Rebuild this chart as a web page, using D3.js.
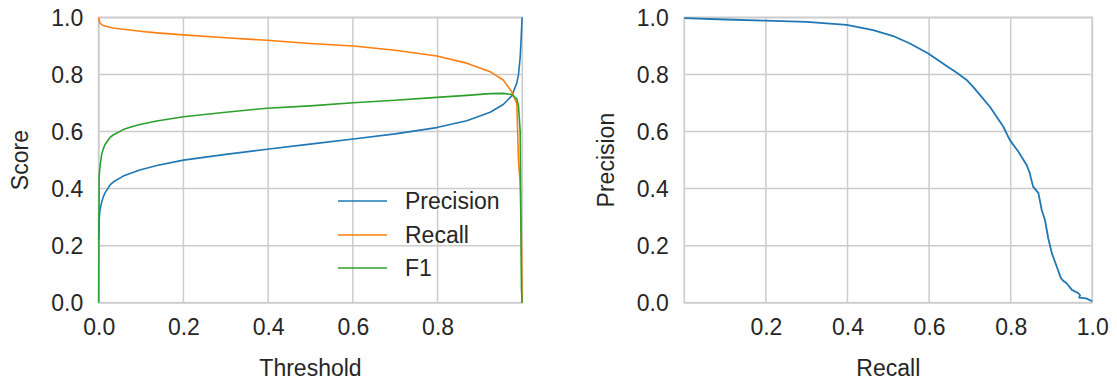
<!DOCTYPE html>
<html>
<head>
<meta charset="utf-8">
<script src="https://cdn.jsdelivr.net/npm/d3@7"></script>
<style>
  html, body { margin: 0; padding: 0; background: #ffffff; }
  svg { display: block; }
  text { font-family: "Liberation Sans", Arial, sans-serif; fill: #262626; }
</style>
</head>
<body>
<svg id="chart" width="1117" height="381"></svg>
<script>
// Threshold sweep: precision, recall and F1 at each decision threshold
const thresholds = [0, 0.001, 0.003, 0.007, 0.011, 0.015, 0.027, 0.034, 0.058, 0.074,
  0.097, 0.137, 0.2, 0.3, 0.397, 0.499, 0.601, 0.7, 0.798, 0.869,
  0.924, 0.955, 0.975, 0.987, 0.991, 0.995, 0.998, 0.9995];
const precisionByThreshold = [0.22, 0.29, 0.325, 0.352, 0.372, 0.385, 0.413, 0.423, 0.444, 0.453,
  0.465, 0.481, 0.5, 0.52, 0.538, 0.556, 0.574, 0.592, 0.614, 0.638,
  0.668, 0.695, 0.725, 0.77, 0.8, 0.86, 0.95, 1.0];
const recallByThreshold = [1.0, 0.99, 0.98, 0.975, 0.972, 0.97, 0.966, 0.963, 0.959, 0.956,
  0.952, 0.946, 0.939, 0.929, 0.92, 0.909, 0.9, 0.885, 0.865, 0.84,
  0.81, 0.781, 0.74, 0.699, 0.5, 0.42, 0.2, 0.0];
const f1ByThreshold = [0.0, 0.44, 0.477, 0.52, 0.54, 0.555, 0.58, 0.588, 0.607, 0.615,
  0.625, 0.637, 0.652, 0.668, 0.682, 0.69, 0.701, 0.71, 0.72, 0.727,
  0.733, 0.734, 0.73, 0.715, 0.69, 0.6, 0.05, 0.0];

// Precision-recall curve
const prRecall = [0.0, 0.1, 0.198, 0.3, 0.398, 0.463, 0.512, 0.553, 0.598, 0.643,
  0.668, 0.692, 0.708, 0.725, 0.749, 0.782, 0.798, 0.819, 0.839, 0.847,
  0.849, 0.855, 0.868, 0.876, 0.884, 0.892, 0.901, 0.913, 0.923, 0.928,
  0.937, 0.95, 0.966, 0.97, 0.968, 0.985, 1.0];
const prPrecision = [0.998, 0.993, 0.989, 0.985, 0.974, 0.956, 0.935, 0.909, 0.874, 0.83,
  0.806, 0.781, 0.757, 0.728, 0.687, 0.617, 0.57, 0.529, 0.483, 0.454,
  0.44, 0.407, 0.384, 0.325, 0.29, 0.226, 0.173, 0.126, 0.086, 0.078,
  0.068, 0.045, 0.033, 0.026, 0.018, 0.015, 0.005];

const yTicks = [0.0, 0.2, 0.4, 0.6, 0.8, 1.0];
const leftXTicks = [0.0, 0.2, 0.4, 0.6, 0.8];
const rightXTicks = [0.2, 0.4, 0.6, 0.8, 1.0];

const seriesNames = ["Precision", "Recall", "F1"];
const seriesColors = ["#1f77b4", "#ff7f0e", "#2ca02c"];

const svg = d3.select("#chart");
const gridColor = "#cccccc";
const fontSize = 23;

const plotTop = 17.5, plotBottom = 302.7;
const y = d3.scaleLinear().domain([0, 1]).range([plotBottom, plotTop]);
const xLeft = d3.scaleLinear().domain([0, 1]).range([98.7, 522.3]);
const xRight = d3.scaleLinear().domain([0, 1]).range([684.3, 1092.3]);

function drawPanel(x, xTicks, xLabel, yLabel, yLabelX) {
  const g = svg.append("g");
  const [x0, x1] = x.range();

  // grid
  g.append("g").selectAll("line").data(xTicks).join("line")
    .attr("x1", d => x(d)).attr("x2", d => x(d))
    .attr("y1", plotTop).attr("y2", plotBottom)
    .attr("stroke", gridColor).attr("stroke-width", 1.5);
  g.append("g").selectAll("line").data(yTicks).join("line")
    .attr("x1", x0).attr("x2", x1)
    .attr("y1", d => y(d)).attr("y2", d => y(d))
    .attr("stroke", gridColor).attr("stroke-width", 1.5);

  // spines
  g.append("rect")
    .attr("x", x0).attr("y", plotTop)
    .attr("width", x1 - x0).attr("height", plotBottom - plotTop)
    .attr("fill", "none").attr("stroke", gridColor).attr("stroke-width", 1.7);

  // tick labels via d3 axes (tick marks hidden)
  const xAxis = d3.axisBottom(x).tickValues(xTicks).tickFormat(d3.format(".1f"))
    .tickSize(0).tickPadding(0);
  const gx = g.append("g").attr("transform", `translate(0,${plotBottom})`).call(xAxis);
  gx.select(".domain").remove();
  gx.selectAll("text").attr("y", 0).attr("dy", null)
    .attr("transform", "translate(0,32.5)")
    .style("font-size", fontSize + "px").style("font-family", "Liberation Sans, Arial, sans-serif")
    .attr("fill", "#262626");

  const yAxis = d3.axisLeft(y).tickValues(yTicks).tickFormat(d3.format(".1f"))
    .tickSize(0).tickPadding(15.5);
  const gy = g.append("g").attr("transform", `translate(${x0},0)`).call(yAxis);
  gy.select(".domain").remove();
  gy.selectAll("text").attr("dy", "0.36em")
    .style("font-size", fontSize + "px").style("font-family", "Liberation Sans, Arial, sans-serif")
    .attr("fill", "#262626");

  // axis titles
  g.append("text")
    .attr("x", (x0 + x1) / 2).attr("y", 376)
    .attr("text-anchor", "middle")
    .style("font-size", fontSize + "px")
    .text(xLabel);
  g.append("text")
    .attr("transform", `translate(${yLabelX},${(plotTop + plotBottom) / 2}) rotate(-90)`)
    .attr("text-anchor", "middle")
    .style("font-size", fontSize + "px")
    .text(yLabel);
  return g;
}

// Left panel: scores versus threshold
const left = drawPanel(xLeft, leftXTicks, "Threshold", "Score", 28);
const seriesValues = [precisionByThreshold, recallByThreshold, f1ByThreshold];
const thresholdLine = vals => d3.line()
  .x((d, i) => xLeft(thresholds[i]))
  .y(d => y(d))(vals);
seriesValues.forEach((vals, k) => {
  left.append("path")
    .attr("d", thresholdLine(vals))
    .attr("fill", "none")
    .attr("stroke", seriesColors[k])
    .attr("stroke-width", 1.6)
    .attr("stroke-linejoin", "round");
});

// legend
const legend = left.append("g");
const legendRows = [201, 235, 268];
seriesNames.forEach((name, k) => {
  legend.append("line")
    .attr("x1", 338).attr("x2", 387)
    .attr("y1", legendRows[k]).attr("y2", legendRows[k])
    .attr("stroke", seriesColors[k]).attr("stroke-width", 1.6);
  legend.append("text")
    .attr("x", 405).attr("y", legendRows[k]).attr("dy", "0.36em")
    .style("font-size", fontSize + "px")
    .text(name);
});

// Right panel: precision versus recall
const right = drawPanel(xRight, rightXTicks, "Recall", "Precision", 614);
right.append("path")
  .attr("d", d3.line().x((d, i) => xRight(prRecall[i])).y(d => y(d))(prPrecision))
  .attr("fill", "none")
  .attr("stroke", "#1f77b4")
  .attr("stroke-width", 1.8)
  .attr("stroke-linejoin", "round");
</script>
</body>
</html>
